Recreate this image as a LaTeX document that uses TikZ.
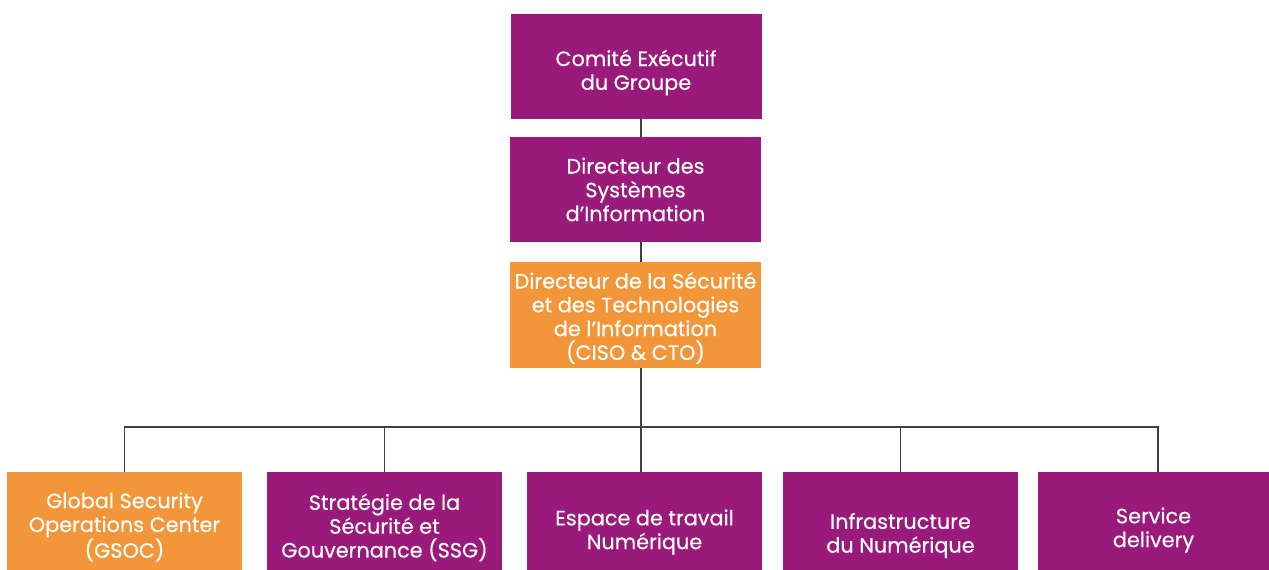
\documentclass[tikz,border=0pt]{standalone}
\usepackage{fontspec}
\setmainfont{Poppins}[FakeBold=0.4]
\definecolor{plum}{HTML}{991A7B}
\definecolor{tang}{HTML}{F39639}
\definecolor{wire}{HTML}{404040}
\begin{document}
\begin{tikzpicture}[x=1pt,y=-1pt,
  shapebox/.style={rectangle, draw=none, inner sep=0pt},
  topbox/.style={shapebox, minimum width=251pt, minimum height=105pt},
  botbox/.style={shapebox, minimum width=235pt, minimum height=98pt},
  txt/.style={text=white, align=center, inner sep=0pt,
    font=\fontsize{20.8}{23.8}\selectfont},
  link/.style={draw=wire, line width=1.3pt}]
\useasboundingbox (0,0) rectangle (1269,570);
\fill[white] (0,0) rectangle (1269,570);
\coordinate (trunk) at (641,0);
\coordinate (bus) at (641,427);
\node[topbox, fill=plum] (comex) at (636,66.5) {};
\node[topbox, fill=plum] (dsi) at (635.5,189.5) {};
\node[topbox, fill=tang, minimum height=106pt] (ciso) at (635.5,315) {};
\node[botbox, fill=tang] (gsoc) at (124.5,521) {};
\node[botbox, fill=plum] (ssg) at (384.5,521) {};
\node[botbox, fill=plum] (etn) at (644.5,521) {};
\node[botbox, fill=plum] (infra) at (900.5,521) {};
\node[botbox, fill=plum, minimum width=231pt] (serv) at (1153.5,521) {};
\node[txt, yshift=-6pt] (comext) at (comex) {Comité Exécutif\\du Groupe};
\node[txt] (dsit) at (dsi) {Directeur des\\Systèmes\\d’Information};
\node[txt, yshift=-3pt] (cisot) at (ciso) {Directeur de la Sécurité\\et des Technologies\\de l’Information\\(CISO \& CTO)};
\node[txt, yshift=-6pt] (gsoct) at (gsoc) {Global Security\\Operations Center\\(GSOC)};
\node[txt, yshift=-6.5pt] (ssgt) at (ssg) {Stratégie de la\\Sécurité et\\Gouvernance (SSG)};
\node[txt, yshift=-11pt] (etnt) at (etn) {Espace de travail\\Numérique};
\node[txt, yshift=-14.5pt] (infrat) at (infra) {Infrastructure\\du Numérique};
\node[txt, yshift=-9pt] (servt) at (serv) {Service\\delivery};
\coordinate (servtop) at (1158,472);
\draw[link] (comex.south -| trunk) -- (dsi.north -| trunk);
\draw[link] (dsi.south -| trunk) -- (ciso.north -| trunk);
\draw[link] (ciso.south -| trunk) -- (etn.north -| trunk);
\draw[link] (gsoc.north) |- (bus) -| (servtop);
\draw[link] (ssg.north) -- (ssg.north |- bus);
\draw[link] (infra.north) -- (infra.north |- bus);
\end{tikzpicture}
\end{document}
